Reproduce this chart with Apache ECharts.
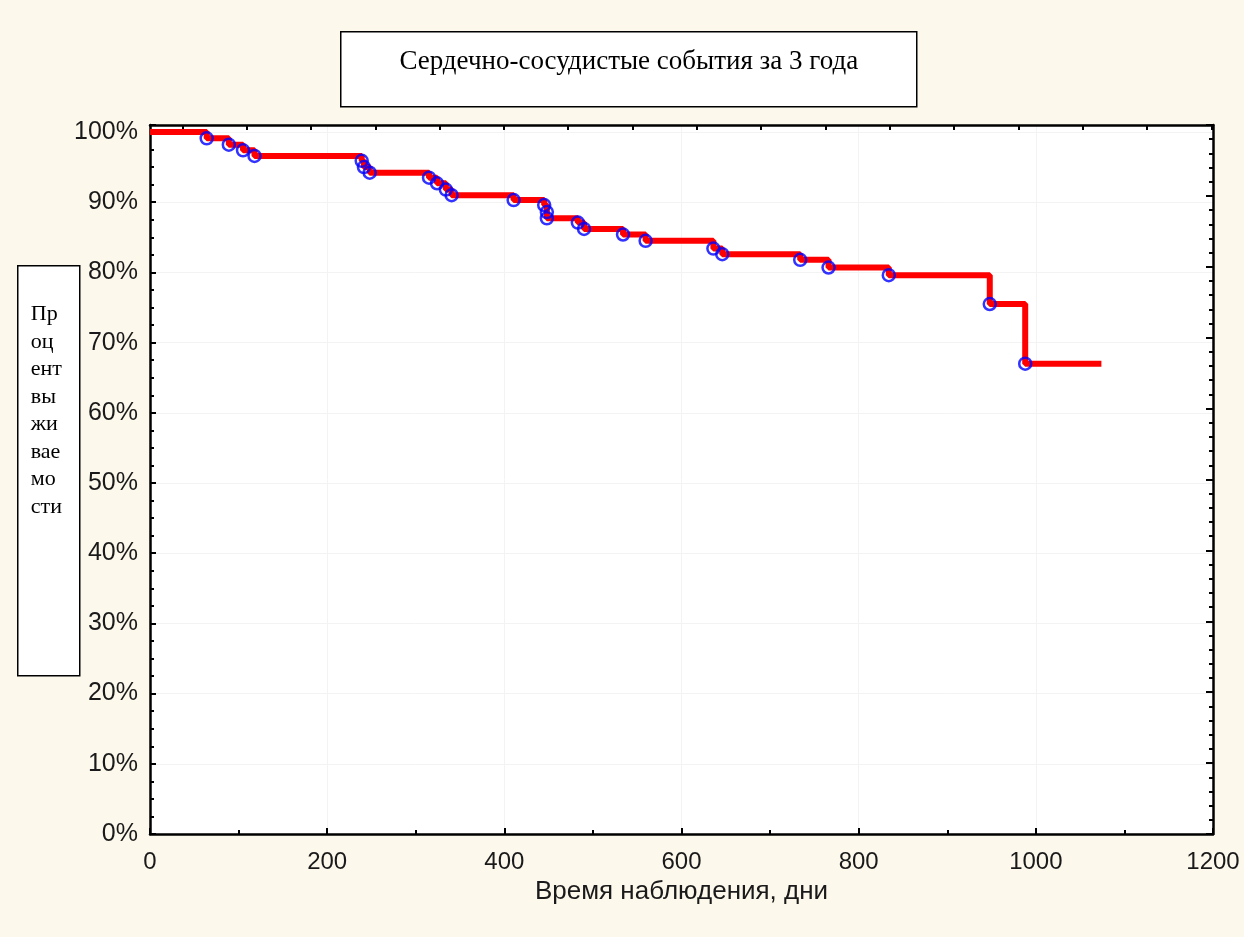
<!DOCTYPE html>
<html>
<head>
<meta charset="utf-8">
<script src="https://cdn.jsdelivr.net/npm/echarts@6/dist/echarts.min.js"></script>
<style>
html,body{margin:0;padding:0;background:#fdf8ec;}
#main{width:1244px;height:937px;}
</style>
</head>
<body>
<div id="main"></div>
<script>
// Event times (days) and survival (%)
var times = [0, 64, 89, 105, 118, 239, 241.5, 248, 315, 324, 334, 340.5, 410.5, 445, 448, 448, 483, 490, 534, 559.5, 636, 646, 734, 766, 834, 948, 988, 1074];
var survival = [100, 99.1, 98.2, 97.4, 96.6, 95.9, 95.0, 94.2, 93.5, 92.7, 91.8, 91.0, 90.3, 89.6, 88.6, 87.7, 87.1, 86.2, 85.4, 84.5, 83.4, 82.6, 81.8, 80.7, 79.6, 75.5, 67.0, 67.0];
var xTickLabels = [0, 200, 400, 600, 800, 1000, 1200];
var yTickLabels = [0, 10, 20, 30, 40, 50, 60, 70, 80, 90, 100];
var titleText = 'Сердечно-сосудистые события за 3 года';
var yLabelLines = ['Пр', 'оц', 'ент', 'вы', 'жи', 'вае', 'мо', 'сти'];
var xAxisName = 'Время наблюдения, дни';

var linePts = times.map(function (t, i) { return [t, survival[i]]; });
var eventPts = linePts.slice(1, linePts.length - 1);

// top mirrored axis ticks (separate Statistica scale)
var topTicks = [];
for (var k = 0; k < 17; k++) { topTicks.push(36.5 + k * 72.6); }

var chart = echarts.init(document.getElementById('main'));
var axisFont = { fontFamily: 'Liberation Sans, Arial, sans-serif', fontSize: 24, color: '#1a1a1a' };

chart.setOption({
  backgroundColor: '#fdf8ec',
  animation: false,
  grid: { left: 150, right: 31, top: 125, bottom: 103, show: true, backgroundColor: '#ffffff', borderWidth: 0 },
  xAxis: [{
    type: 'value', min: 0, max: 1200, interval: 200, position: 'bottom',
    axisLine: { show: true, onZero: false, lineStyle: { color: '#000', width: 2.5 } },
    axisTick: { show: true, inside: true, length: 6, lineStyle: { color: '#000', width: 2 } },
    minorTick: { show: true, splitNumber: 2, length: 4, lineStyle: { color: '#000', width: 2 } },
    splitLine: { show: true, lineStyle: { color: '#f3f3f3', width: 1 } },
    axisLabel: Object.assign({ margin: 16, formatter: function (v) { return xTickLabels.indexOf(v) >= 0 ? String(v) : ''; } }, axisFont),
    name: xAxisName, nameLocation: 'middle', nameGap: 44,
    nameTextStyle: { fontFamily: 'Liberation Sans, Arial, sans-serif', fontSize: 26, color: '#1a1a1a' }
  }, {
    type: 'value', min: 0, max: 1200, position: 'top',
    axisLine: { show: true, onZero: false, lineStyle: { color: '#000', width: 2.5 } },
    axisTick: { show: true, inside: true, length: 5, customValues: topTicks, lineStyle: { color: '#000', width: 2 } },
    axisLabel: { show: false },
    splitLine: { show: false }
  }],
  yAxis: [{
    type: 'value', min: 0, max: 101, interval: 10, position: 'left',
    axisLine: { show: true, onZero: false, lineStyle: { color: '#000', width: 2.5 } },
    axisTick: { show: true, inside: true, length: 6, lineStyle: { color: '#000', width: 2 } },
    minorTick: { show: true, splitNumber: 4, length: 4, lineStyle: { color: '#000', width: 2 } },
    splitLine: { show: true, lineStyle: { color: '#f3f3f3', width: 1 } },
    axisLabel: Object.assign({ margin: 12, showMaxLabel: false, formatter: function (v) { return yTickLabels.indexOf(v) >= 0 ? v + '%' : ''; } }, axisFont, { fontSize: 25 })
  }, {
    type: 'value', min: 0, max: 10, interval: 1, position: 'right',
    axisLine: { show: true, onZero: false, lineStyle: { color: '#000', width: 2.5 } },
    axisTick: { show: true, inside: true, length: 7, lineStyle: { color: '#000', width: 2 } },
    minorTick: { show: true, splitNumber: 5, length: 4, lineStyle: { color: '#000', width: 2 } },
    axisLabel: { show: false },
    splitLine: { show: false }
  }],
  series: [{
    type: 'line', step: 'end', data: linePts, xAxisIndex: 0, yAxisIndex: 0,
    showSymbol: false, symbol: 'none',
    lineStyle: { color: '#ff0000', width: 6 }, z: 3
  }, {
    type: 'scatter', data: eventPts, xAxisIndex: 0, yAxisIndex: 0,
    symbol: 'circle', symbolSize: 12,
    itemStyle: { color: 'rgba(0,0,0,0)', borderColor: '#0000ff', borderWidth: 2.5 }, z: 4
  }],
  graphic: [{
    type: 'group', left: 340, top: 31,
    children: [{
      type: 'rect', shape: { x: 0, y: 0, width: 576, height: 75 },
      style: { fill: '#ffffff', stroke: '#000', lineWidth: 1.5 }
    }, {
      type: 'text', x: 288, y: 30,
      style: { text: titleText, fill: '#000', font: '27px "Liberation Serif", "Times New Roman", serif', align: 'center', verticalAlign: 'middle' }
    }]
  }, {
    type: 'group', left: 17, top: 265,
    children: [{
      type: 'rect', shape: { x: 0, y: 0, width: 62, height: 410 },
      style: { fill: '#ffffff', stroke: '#000', lineWidth: 1.5 }
    }, {
      type: 'text', x: 13, y: 35,
      style: { text: yLabelLines.join('\n'), fill: '#000', font: '22px "Liberation Serif", "Times New Roman", serif', lineHeight: 27.5, align: 'left', verticalAlign: 'top' }
    }]
  }]
});
</script>
</body>
</html>
